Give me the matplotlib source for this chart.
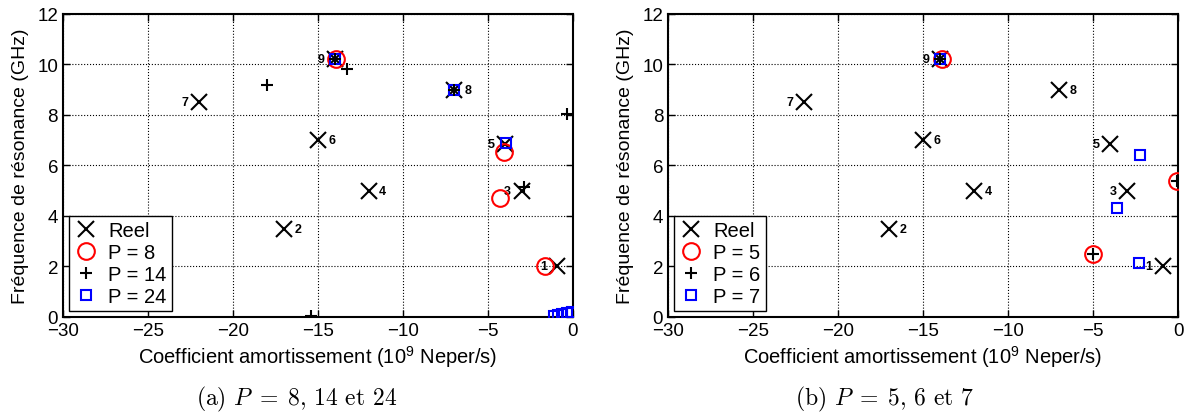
import matplotlib
matplotlib.use("Agg")
import matplotlib.pyplot as plt

plt.rcParams['font.family'] = ['Liberation Sans', 'DejaVu Sans']
plt.rcParams['mathtext.fontset'] = 'custom'
plt.rcParams['mathtext.rm'] = 'Liberation Sans'
plt.rcParams['mathtext.it'] = 'Liberation Sans:italic'

# poles reels (amortissement, frequence) et leur numero
reel_x = [-0.9, -17, -3, -12, -4, -15, -22, -7, -14]
reel_y = [2.0, 3.5, 5.0, 5.0, 6.85, 7.0, 8.5, 9.0, 10.2]
reel_num = ['1', '2', '3', '4', '5', '6', '7', '8', '9']
num_side = [-1, 1, -1, 1, -1, 1, -1, 1, -1]  # -1 = a gauche, 1 = a droite

# (a) P = 8, 14, 24
a8_x = [-13.9, -4.05, -4.3, -1.6]
a8_y = [10.2, 6.55, 4.7, 2.0]
a14_x = [-18.0, -13.3, -0.35, -2.85, -15.4, -14.0, -7.0]
a14_y = [9.18, 9.8, 8.03, 5.13, 0.05, 10.2, 9.0]
a24_x = [-14.0, -7.0, -3.9, -1.1, -0.85, -0.6, -0.35, -0.1, -0.05]
a24_y = [10.2, 9.0, 6.88, 0.03, 0.07, 0.1, 0.14, 0.17, 0.2]

# (b) P = 5, 6, 7
b5_x = [-13.9, -5.0, -0.08]
b5_y = [10.2, 2.49, 5.4]
b6_x = [-14.0, -5.0, -0.08]
b6_y = [10.2, 2.49, 5.4]
b7_x = [-14.0, -2.22, -3.6, -2.32]
b7_y = [10.2, 6.4, 4.33, 2.13]


def tracer(ax, series, labels):
    ax.plot(reel_x, reel_y, 'x', color='black', ms=12, mew=1.5, label='Reel', zorder=3)
    ax.plot(series[0][0], series[0][1], 'o', mfc='none', mec='red', ms=12, mew=1.5,
            label=labels[0], zorder=4)
    ax.plot(series[1][0], series[1][1], '+', color='black', ms=8, mew=1.5,
            label=labels[1], zorder=5)
    ax.plot(series[2][0], series[2][1], 's', mfc='none', mec='blue', ms=7, mew=1.5,
            label=labels[2], zorder=4)
    for x, y, t, s in zip(reel_x, reel_y, reel_num, num_side):
        ax.annotate(t, (x, y), xytext=(10 * s, 0), textcoords='offset points',
                    ha='center', va='center', fontsize=9, fontweight='bold')
    ax.set_xlim(-30, 0)
    ax.set_ylim(0, 12)
    ax.set_xticks(range(-30, 1, 5))
    ax.set_yticks(range(0, 13, 2))
    ax.grid(True, linestyle=':', color='black', linewidth=0.8)
    ax.tick_params(direction='in', top=True, right=True, labelsize=13.5, length=5, width=1)
    for sp in ax.spines.values():
        sp.set_linewidth(1.5)
    ax.set_xlabel('Coefficient amortissement (10$^9$ Neper/s)', fontsize=14.5, labelpad=3)
    ax.set_ylabel('Fréquence de résonance (GHz)', fontsize=14, labelpad=6)
    leg = ax.legend(loc='lower left', fontsize=14.5, fancybox=False, framealpha=1,
                    edgecolor='black', borderaxespad=0.3, handlelength=1.2,
                    handletextpad=0.5, borderpad=0.25, labelspacing=0.15)
    leg.get_frame().set_linewidth(1.0)


fig = plt.figure(figsize=(11.88, 4.14), dpi=100)
ax1 = fig.add_axes([0.053, 0.232, 0.429, 0.732])
ax2 = fig.add_axes([0.5623, 0.232, 0.4293, 0.732])

tracer(ax1, [(a8_x, a8_y), (a14_x, a14_y), (a24_x, a24_y)], ['P = 8', 'P = 14', 'P = 24'])
tracer(ax2, [(b5_x, b5_y), (b6_x, b6_y), (b7_x, b7_y)], ['P = 5', 'P = 6', 'P = 7'])

fig.text(0.25, 0.036, r'(a) $P\;=\;8$, 14 et 24', family='cmr10', math_fontfamily='cm',
         fontsize=17, ha='center', va='center')
fig.text(0.745, 0.036, r'(b) $P\;=\;5$, 6 et 7', family='cmr10', math_fontfamily='cm',
         fontsize=17, ha='center', va='center')

fig.savefig('out.png', dpi=100)
